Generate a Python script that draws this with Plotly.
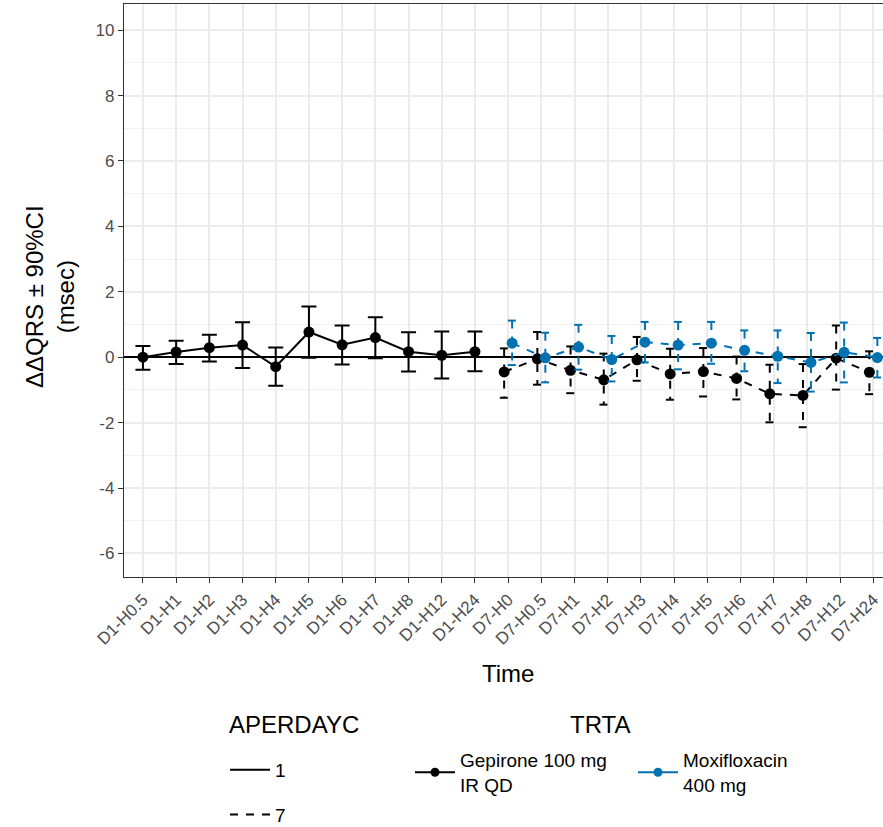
import plotly.graph_objects as go
import numpy as np

# ---------------- data ----------------
time_labels = ["D1-H0.5", "D1-H1", "D1-H2", "D1-H3", "D1-H4", "D1-H5", "D1-H6", "D1-H7",
               "D1-H8", "D1-H12", "D1-H24", "D7-H0", "D7-H0.5", "D7-H1", "D7-H2", "D7-H3",
               "D7-H4", "D7-H5", "D7-H6", "D7-H7", "D7-H8", "D7-H12", "D7-H24"]
d1_labels = time_labels[:11]
d7_labels = time_labels[11:]

y_ticks = [-6, -4, -2, 0, 2, 4, 6, 8, 10]

gep_d1_mean = [0.00, 0.16, 0.29, 0.37, -0.29, 0.77, 0.38, 0.60, 0.17, 0.06, 0.17]
gep_d1_lo = [-0.38, -0.21, -0.13, -0.33, -0.87, -0.02, -0.22, -0.03, -0.44, -0.65, -0.43]
gep_d1_hi = [0.34, 0.50, 0.69, 1.07, 0.30, 1.55, 0.97, 1.22, 0.76, 0.79, 0.79]

gep_d7_mean = [-0.45, -0.05, -0.40, -0.69, -0.08, -0.51, -0.44, -0.65, -1.12, -1.17, -0.03, -0.46]
gep_d7_lo = [-1.24, -0.84, -1.10, -1.45, -0.72, -1.30, -1.20, -1.29, -1.99, -2.14, -0.99, -1.13]
gep_d7_hi = [0.27, 0.77, 0.33, 0.11, 0.62, 0.26, 0.28, 0.02, -0.23, -0.21, 0.97, 0.18]

moxi_d7_mean = [0.43, -0.02, 0.31, -0.07, 0.46, 0.37, 0.43, 0.21, 0.03, -0.16, 0.15, -0.01]
moxi_d7_lo = [-0.24, -0.77, -0.38, -0.74, -0.16, -0.37, -0.20, -0.43, -0.79, -1.05, -0.77, -0.62]
moxi_d7_hi = [1.12, 0.75, 0.99, 0.65, 1.08, 1.08, 1.08, 0.82, 0.82, 0.74, 1.06, 0.59]

trt_names = ["Gepirone 100 mg<br>IR QD", "Moxifloxacin<br>400 mg"]
day_names = ["1", "7"]

# ---------------- styling ----------------
BLACK = "#000000"
BLUE = "#0072B2"
FONT = "Liberation Sans, Arial, sans-serif"
DASH = "8px,8px"
DODGE = 0.12
CAP_D7 = 0.13
W, H = 883, 827
ML, MR, MT, MB = 124, 0, 4, 250
PW, PH = W - ML - MR, H - MT - MB


def px_x(px):
    return (px - ML) / PW


def px_y(py):
    return (H - MB - py) / PH


pos = {lab: i for i, lab in enumerate(time_labels)}
x_d1 = np.array([pos[l] for l in d1_labels], dtype=float)
x_d7 = np.array([pos[l] for l in d7_labels], dtype=float)


def errbar_path(xc, lo, hi, hw):
    xs, ys = [], []
    for x, l, h in zip(xc, lo, hi):
        xs += [x - hw, x + hw, None, x, x, None, x - hw, x + hw, None]
        ys += [h, h, None, h, l, None, l, l, None]
    return xs, ys


fig = go.Figure()

# Day 1 Gepirone (solid)
m = np.array(gep_d1_mean)
fig.add_trace(go.Scatter(
    x=x_d1, y=m, mode="lines+markers",
    line=dict(color=BLACK, width=2),
    marker=dict(color=BLACK, size=11),
    error_y=dict(type="data", symmetric=False,
                 array=np.array(gep_d1_hi) - m, arrayminus=m - np.array(gep_d1_lo),
                 color=BLACK, thickness=2, width=7.5),
    showlegend=False, hoverinfo="skip"))

# Day 7 series (dashed, dodged)
for mean, lo, hi, col, off in [(gep_d7_mean, gep_d7_lo, gep_d7_hi, BLACK, -DODGE),
                               (moxi_d7_mean, moxi_d7_lo, moxi_d7_hi, BLUE, DODGE)]:
    xx = x_d7 + off
    ex, ey = errbar_path(xx, lo, hi, CAP_D7)
    fig.add_trace(go.Scatter(x=ex, y=ey, mode="lines",
                             line=dict(color=col, width=2, dash=DASH),
                             showlegend=False, hoverinfo="skip"))
    fig.add_trace(go.Scatter(x=xx, y=mean, mode="lines+markers",
                             line=dict(color=col, width=2, dash=DASH),
                             marker=dict(color=col, size=11),
                             showlegend=False, hoverinfo="skip"))

# Legend entries
fig.add_trace(go.Scatter(x=[None], y=[None], mode="lines", name=day_names[0],
                         line=dict(color=BLACK, width=2), legend="legend", legendgroup="d1"))
fig.add_trace(go.Scatter(x=[None], y=[None], mode="lines", name=day_names[1],
                         line=dict(color=BLACK, width=2, dash=DASH), legend="legend", legendgroup="d7"))
fig.add_trace(go.Scatter(x=[None], y=[None], mode="lines+markers", name=trt_names[0],
                         line=dict(color=BLACK, width=2), marker=dict(color=BLACK, size=9),
                         legend="legend2"))
fig.add_trace(go.Scatter(x=[None], y=[None], mode="lines+markers", name=trt_names[1],
                         line=dict(color=BLUE, width=2), marker=dict(color=BLUE, size=9),
                         legend="legend2"))

fig.update_layout(
    width=W, height=H,
    margin=dict(l=ML, r=MR, t=MT, b=MB, autoexpand=False),
    plot_bgcolor="white", paper_bgcolor="white",
    font=dict(family=FONT, color="black"),
    legend=dict(
        font=dict(size=19, family=FONT),
        orientation="v", xref="container", yref="container",
        x=225 / W, y=1 - 751 / H, xanchor="left", yanchor="top",
        tracegroupgap=17, itemwidth=40, bgcolor="rgba(0,0,0,0)",
    ),
    legend2=dict(
        font=dict(size=19, family=FONT),
        orientation="h", xref="container", yref="container",
        x=410 / W, y=1 - 741 / H, xanchor="left", yanchor="top",
        entrywidth=168, entrywidthmode="pixels", itemwidth=40,
        bgcolor="rgba(0,0,0,0)",
    ),
    annotations=[
        dict(text="APERDAYC", xref="paper", yref="paper", x=px_x(227), y=px_y(724),
             xanchor="left", yanchor="middle", showarrow=False,
             font=dict(size=24, family=FONT, color="black")),
        dict(text="TRTA", xref="paper", yref="paper", x=px_x(600), y=px_y(724),
             xanchor="center", yanchor="middle", showarrow=False,
             font=dict(size=24, family=FONT, color="black")),
        dict(text="Time", xref="paper", yref="paper", x=px_x(508), y=px_y(673),
             xanchor="center", yanchor="middle", showarrow=False,
             font=dict(size=24, family=FONT, color="black")),
        dict(text="ΔΔQRS ± 90%CI<br>(msec)", xref="paper", yref="paper",
             x=px_x(50), y=px_y(297), textangle=-90,
             xanchor="center", yanchor="middle", showarrow=False,
             font=dict(size=24, family=FONT, color="black")),
    ],
)

fig.update_xaxes(
    range=[-0.57, 22.29], automargin=False,
    tickmode="array", tickvals=list(range(len(time_labels))), ticktext=time_labels,
    tickangle=-45, tickfont=dict(size=17, color="#4D4D4D", family=FONT),
    ticks="outside", ticklen=5, tickcolor="#333333", tickwidth=1.3,
    showgrid=True, gridcolor="#EBEBEB", gridwidth=1.5,
    showline=True, mirror=True, linecolor="#333333", linewidth=1.3,
    zeroline=False,
)
fig.update_yaxes(
    range=[-6.72, 10.8], automargin=False,
    tickmode="array", tickvals=y_ticks, ticktext=[str(v) for v in y_ticks],
    tickfont=dict(size=17, color="#4D4D4D", family=FONT),
    ticks="outside", ticklen=5, tickcolor="#333333", tickwidth=1.3,
    showgrid=True, gridcolor="#EBEBEB", gridwidth=1.5,
    minor=dict(tickmode="array", tickvals=list(range(-5, 11, 2)), showgrid=True,
               gridcolor="#F2F2F2", gridwidth=1, ticks=""),
    showline=True, mirror=False, linecolor="#333333", linewidth=1.3,
    zeroline=True, zerolinecolor="black", zerolinewidth=2,
)

fig.write_html("out.html")
